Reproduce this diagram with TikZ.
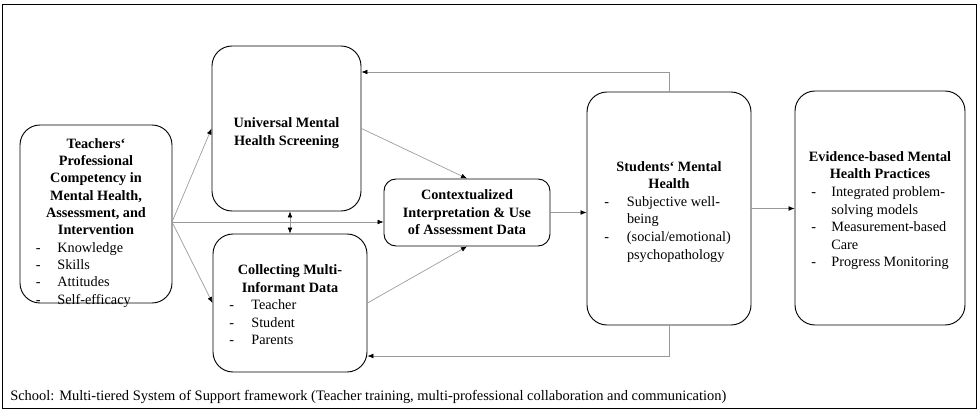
\documentclass[tikz,border=0pt]{standalone}
\usepackage{fontspec}
\setmainfont{Liberation Serif}
\usetikzlibrary{arrows.meta}
\newcommand{\dashlist}[3]{\begin{tabular}[t]{@{}p{#1}@{}p{#2}@{}}#3\end{tabular}}

\begin{document}
\begin{tikzpicture}[x=0.75pt,y=-0.75pt,>={Latex[length=4.5pt,width=3.6pt,color=black]},
    box/.style={draw,rounded corners=15pt,line width=0.7pt,inner sep=0pt,align=center,
      font=\fontsize{10.7}{13.2}\selectfont},
    conn/.style={draw=black!40,line width=0.5pt,->}]
    \useasboundingbox (0,0) rectangle (978,410);
    \draw[line width=0.7pt] (2,4) rectangle (976,408);

    \node[box,minimum width=114pt,text height=95.25pt,text depth=38.25pt,
      font=\fontsize{10.7}{13}\selectfont] (teach) at (96,214)
      {\textbf{Teachers‘}\\\textbf{Professional}\\\textbf{Competency in}\\
       \textbf{Mental Health,}\\\textbf{Assessment, and}\\\textbf{Intervention}\\
       \dashlist{16pt}{74pt}{-&Knowledge\\-&Skills\\-&Attitudes\\-&Self-efficacy}};
    \node[box,minimum width=111.75pt,minimum height=123.75pt] (univ) at (286.5,128.5)
      {\rule{0pt}{14pt}\textbf{Universal Mental}\\\textbf{Health Screening}};
    \node[box,minimum width=115.5pt,minimum height=103.5pt] (coll) at (290,303)
      {\rule{0pt}{14pt}\textbf{Collecting Multi-}\\\textbf{Informant Data}\\
       \dashlist{16.5pt}{74.5pt}{-&Teacher\\-&Student\\-&Parents}};
    \node[box,rounded corners=9pt,minimum width=124.5pt,minimum height=50.25pt] (ctx) at (467,212.5)
      {\textbf{Contextualized}\\\textbf{Interpretation \& Use}\\\textbf{of Assessment Data}};
    \node[box,minimum width=123pt,minimum height=174.75pt] (stud) at (669,208.5)
      {\rule{0pt}{14pt}\textbf{Students‘ Mental}\\\textbf{Health}\\
       \dashlist{17pt}{80pt}{-&Subjective well-\\&being\\-&(social/emotional)\\&psychopathology}};
    \node[box,minimum width=127.5pt,minimum height=175.5pt] (evid) at (880,208)
      {\rule{0pt}{13pt}\textbf{Evidence-based Mental}\\\textbf{Health Practices}\\
       \dashlist{15pt}{88pt}{-&Integrated problem-\\&solving models\\-&Measurement-based\\&Care\\-&Progress Monitoring}};
    \node[anchor=base west,inner sep=0pt,font=\fontsize{10.85}{13}\selectfont] (school) at (10,400)
      {School: Multi-tiered System of Support framework (Teacher training, multi-professional collaboration and communication)};

    \coordinate (fan) at (172,222);
    \coordinate (topturn) at (669,72);
    \coordinate (botturn) at (669,356);

    \draw[conn] (fan) -- (univ.west);
    \draw[conn] (fan) -- (coll.west);
    \draw[conn] (fan) -- (fan -| ctx.west);
    \draw[conn,<->] (univ.south -| coll.north) -- (coll.north);
    \draw[conn] (univ.east) -- (ctx.north);
    \draw[conn] (coll.east) -- (ctx.south);
    \draw[conn] (ctx.east) -- (ctx.east -| stud.west);
    \draw[conn] (stud.north) -- (topturn) -- (topturn -| univ.east);
    \draw[conn] (stud.south) -- (botturn) -- (botturn -| coll.east);
    \draw[conn] (stud.east) -- (stud.east -| evid.west);
\end{tikzpicture}
\end{document}
